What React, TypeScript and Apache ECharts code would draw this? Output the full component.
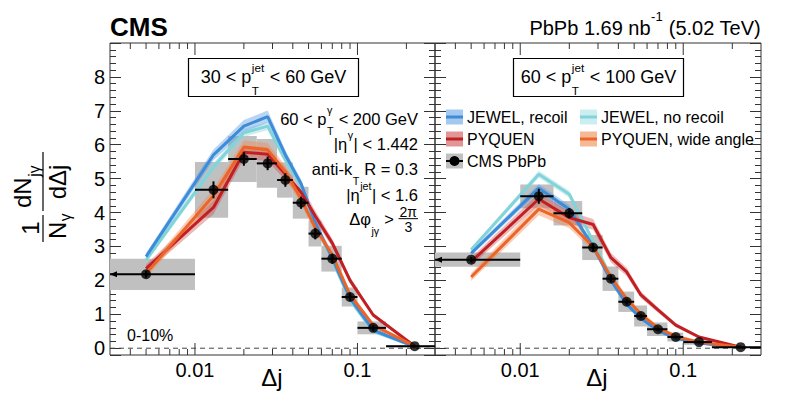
import React, { useEffect, useRef } from 'react';
import * as echarts from 'echarts';

// ---------------- data ----------------
const X_MIN = 0.003;
const X_MAX = 0.3;
const Y_MIN = -0.2;
const Y_MAX = 9;

const binLo = [0, 0.01, 0.016, 0.024, 0.032, 0.04, 0.05, 0.06, 0.08, 0.1, 0.15];
const binHi = [0.01, 0.016, 0.024, 0.032, 0.04, 0.05, 0.06, 0.08, 0.1, 0.15, 0.3];
const binX = [0.005, 0.013, 0.02, 0.028, 0.036, 0.045, 0.055, 0.07, 0.09, 0.125, 0.225];

// panel 1 : 30 < pT jet < 60 GeV
const cms1 = [2.18, 4.67, 5.58, 5.45, 4.96, 4.29, 3.38, 2.64, 1.51, 0.6, 0.06];
const stat1 = [0.1, 0.25, 0.2, 0.2, 0.2, 0.18, 0.17, 0.15, 0.12, 0.08, 0.04];
const sys1 = [0.46, 0.82, 0.68, 0.72, 0.52, 0.47, 0.38, 0.38, 0.28, 0.19, 0.03];
const jewelRecoil1 = [2.7, 5.7, 6.55, 6.83, 5.7, 4.85, 3.7, 2.65, 1.48, 0.53, 0.05];
const jewelRecoilErr1 = [0.1, 0.16, 0.18, 0.18, 0.14, 0.12, 0.1, 0.08, 0.06, 0.04, 0.02];
const jewelNoRecoil1 = [2.6, 5.35, 6.35, 6.55, 5.55, 4.75, 3.65, 2.6, 1.42, 0.5, 0.05];
const jewelNoRecoilErr1 = [0.08, 0.12, 0.12, 0.12, 0.1, 0.1, 0.08, 0.06, 0.05, 0.03, 0.02];
const pyquen1 = [2.35, 4.15, 5.78, 5.72, 5.13, 4.6, 3.9, 3.1, 2.0, 0.98, 0.06];
const pyquenErr1 = [0.12, 0.2, 0.2, 0.2, 0.18, 0.18, 0.15, 0.12, 0.1, 0.06, 0.02];
const pyquenWide1 = [2.2, 4.5, 5.93, 5.85, 5.2, 4.4, 3.55, 2.75, 1.57, 0.68, 0.06];
const pyquenWideErr1 = [0.12, 0.2, 0.2, 0.2, 0.18, 0.17, 0.15, 0.12, 0.1, 0.06, 0.02];

// panel 2 : 60 < pT jet < 100 GeV
const cms2 = [2.61, 4.48, 3.98, 2.97, 2.05, 1.37, 0.95, 0.56, 0.33, 0.18, 0.03];
const stat2 = [0.08, 0.22, 0.15, 0.12, 0.1, 0.08, 0.06, 0.05, 0.04, 0.03, 0.02];
const sys2 = [0.21, 0.35, 0.36, 0.37, 0.36, 0.3, 0.31, 0.2, 0.13, 0.08, 0.02];
const jewelRecoil2 = [2.8, 4.72, 4.1, 3.0, 2.0, 1.3, 0.88, 0.52, 0.3, 0.15, 0.02];
const jewelRecoilErr2 = [0.08, 0.12, 0.12, 0.1, 0.08, 0.06, 0.05, 0.04, 0.03, 0.02, 0.01];
const jewelNoRecoil2 = [2.9, 5.13, 4.54, 3.15, 2.1, 1.35, 0.92, 0.55, 0.31, 0.16, 0.02];
const jewelNoRecoilErr2 = [0.06, 0.1, 0.1, 0.08, 0.06, 0.05, 0.04, 0.03, 0.02, 0.02, 0.01];
const pyquen2 = [2.55, 4.4, 3.85, 3.65, 2.67, 2.25, 1.57, 1.13, 0.68, 0.33, 0.03];
const pyquenErr2 = [0.12, 0.18, 0.18, 0.16, 0.14, 0.12, 0.1, 0.08, 0.06, 0.04, 0.02];
const pyquenWide2 = [2.1, 4.1, 3.7, 3.0, 2.1, 1.45, 1.0, 0.6, 0.35, 0.18, 0.03];
const pyquenWideErr2 = [0.12, 0.18, 0.16, 0.14, 0.12, 0.1, 0.08, 0.06, 0.04, 0.03, 0.02];

const minorTicksX = [0.004, 0.005, 0.006, 0.007, 0.008, 0.009, 0.02, 0.03, 0.04, 0.05, 0.06, 0.07, 0.08, 0.09, 0.2];
const majorTicksX = [0.01, 0.1];

// ---------------- styles ----------------
const FF = '"Liberation Sans", Arial, Helvetica, sans-serif';
const GRAY = 'rgb(192,192,192)';
const AX = '#333';
const C = {
  blue: 'rgb(60,140,218)',
  blueBand: 'rgba(90,155,225,0.42)',
  blueSw: 'rgb(165,200,238)',
  cyan: 'rgb(128,212,218)',
  cyanBand: 'rgba(140,215,220,0.42)',
  cyanSw: 'rgb(205,238,240)',
  red: 'rgb(192,32,36)',
  redBand: 'rgba(205,70,70,0.38)',
  redSw: 'rgb(225,150,150)',
  orange: 'rgb(236,100,40)',
  orangeBand: 'rgba(242,135,80,0.42)',
  orangeSw: 'rgb(246,185,150)',
};

// ---------------- text helpers ----------------
let _ctx: CanvasRenderingContext2D | null = null;
function tw(t: string, s: number) {
  if (!_ctx) _ctx = document.createElement('canvas').getContext('2d');
  _ctx!.font = `${s}px ${FF}`;
  return _ctx!.measureText(t).width;
}
function txt(text: string, x: number, y: number, s: number, align = 'left', extra: any = {}) {
  return {
    type: 'text', x, y, silent: true, z: 100,
    style: { text, fontSize: s, fontFamily: FF, fill: '#000', align, verticalAlign: 'middle', ...extra },
  };
}
function ln(x1: number, y1: number, x2: number, y2: number, w = 1, color = '#000') {
  return { type: 'line', silent: true, z: 100, shape: { x1, y1, x2, y2 }, style: { stroke: color, lineWidth: w } };
}
function row(parts: any[], x: number, mid: number, S: number, align: 'left' | 'right' | 'center') {
  const ss = S * 0.65;
  const fs = S * 0.85;
  const meas = parts.map((p) => {
    if (p.t !== undefined) return tw(p.t, S);
    if (p.num !== undefined) return Math.max(tw(p.num, fs), tw(p.den, fs)) + 2;
    return Math.max(p.sup ? tw(p.sup, ss) : 0, p.sub ? tw(p.sub, ss) : 0) + 1;
  });
  const total = meas.reduce((a, b) => a + b, 0);
  let cx = align === 'right' ? x - total : align === 'center' ? x - total / 2 : x;
  const out: any[] = [];
  parts.forEach((p, i) => {
    const w = meas[i];
    if (p.t !== undefined) {
      const lead = p.t.length - p.t.replace(/^\s+/, '').length;
      const off = lead ? tw(p.t.slice(0, lead), S) : 0;
      out.push(txt(p.t.trim(), cx + off, mid, S));
    } else if (p.num !== undefined) {
      out.push(txt(p.num, cx + w / 2, mid - 0.45 * S, fs, 'center'));
      out.push(txt(p.den, cx + w / 2, mid + 0.5 * S, fs, 'center'));
      out.push(ln(cx, mid - 0.02 * S, cx + w, mid - 0.02 * S, 1));
    } else {
      if (p.sup) out.push(txt(p.sup, cx + 0.5, mid - 0.55 * S, ss));
      if (p.sub) out.push(txt(p.sub, cx + 0.5, mid + 0.75 * S, ss));
    }
    cx += w;
  });
  return out;
}

// ---------------- series builders ----------------
function bandSeries(g: number, ys: number[], errs: number[], color: string) {
  return {
    type: 'custom', xAxisIndex: g, yAxisIndex: g * 2, z: 3, silent: true, clip: true,
    data: [[binX[0], ys[0]]],
    renderItem: (_p: any, api: any) => {
      const top = binX.map((x, i) => api.coord([x, ys[i] + errs[i]]));
      const bot = binX.map((x, i) => api.coord([x, ys[i] - errs[i]])).reverse();
      return { type: 'polygon', shape: { points: top.concat(bot) }, style: { fill: color } };
    },
  };
}
function lineSeries(g: number, ys: number[], color: string) {
  return {
    type: 'line', xAxisIndex: g, yAxisIndex: g * 2, z: 4, silent: true,
    data: binX.map((x, i) => [x, ys[i]]),
    showSymbol: false, symbol: 'none',
    lineStyle: { color, width: 3 },
  };
}
function panelSeries(g: number, cms: number[], stat: number[], sys: number[], models: any[]) {
  const out: any[] = [];
  out.push({
    type: 'custom', xAxisIndex: g, yAxisIndex: g * 2, z: 1, silent: true, clip: true,
    data: binX.map((_x, i) => [binHi[i], cms[i], binLo[i], sys[i]]),
    encode: { x: 0, y: 1 },
    renderItem: (_p: any, api: any) => {
      const hi = api.value(0), y = api.value(1), lo = Math.max(api.value(2), X_MIN), e = api.value(3);
      const a = api.coord([lo, y + e]);
      const b = api.coord([hi, y - e]);
      return { type: 'rect', shape: { x: a[0], y: a[1], width: b[0] - a[0], height: b[1] - a[1] }, style: { fill: GRAY } };
    },
  });
  out.push({
    type: 'line', xAxisIndex: g, yAxisIndex: g * 2, z: 2, silent: true, symbol: 'none',
    data: [[X_MIN, 0], [X_MAX, 0]],
    lineStyle: { color: '#444', width: 1, type: [5, 4] },
  });
  models.forEach((m) => out.push(bandSeries(g, m.ys, m.errs, m.band)));
  models.forEach((m) => out.push(lineSeries(g, m.ys, m.line)));
  out.push({
    type: 'custom', xAxisIndex: g, yAxisIndex: g * 2, z: 6, silent: true, clip: false,
    data: binX.map((x, i) => [x, cms[i], stat[i], binLo[i], binHi[i]]),
    encode: { x: 0, y: 1 },
    renderItem: (_p: any, api: any) => {
      const x = api.value(0), y = api.value(1), e = api.value(2);
      const lo = Math.max(api.value(3), X_MIN), hi = api.value(4);
      const pl = api.coord([lo, y]), ph = api.coord([hi, y]);
      const pt = api.coord([x, y + e]), pb = api.coord([x, y - e]);
      const children: any[] = [
        { type: 'line', shape: { x1: pl[0], y1: pl[1], x2: ph[0], y2: ph[1] }, style: { stroke: '#000', lineWidth: 2 } },
        { type: 'line', shape: { x1: pt[0], y1: pt[1], x2: pb[0], y2: pb[1] }, style: { stroke: '#000', lineWidth: 2 } },
      ];
      if (api.value(3) < X_MIN) {
        children.push({ type: 'polygon', shape: { points: [[pl[0], pl[1]], [pl[0] + 7, pl[1] - 3], [pl[0] + 7, pl[1] + 3]] }, style: { fill: '#000' } });
      }
      return { type: 'group', children };
    },
  });
  out.push({
    type: 'scatter', xAxisIndex: g, yAxisIndex: g * 2, z: 7, silent: true,
    data: binX.map((x, i) => [x, cms[i]]),
    symbol: 'circle', symbolSize: 10, itemStyle: { color: '#000' },
  });
  out.push({
    type: 'custom', xAxisIndex: g, yAxisIndex: g * 2, z: 8, silent: true, clip: false,
    data: [...majorTicksX.map((v) => [v, 0, 1]), ...minorTicksX.map((v) => [v, 0, 0])],
    encode: { x: 0, y: 1 },
    renderItem: (_p: any, api: any) => {
      const v = api.value(0);
      const L = api.value(2) ? 12 : 6;
      const b = api.coord([v, Y_MIN]);
      const t = api.coord([v, Y_MAX]);
      return {
        type: 'group', children: [
          { type: 'line', shape: { x1: b[0], y1: b[1], x2: b[0], y2: b[1] - L }, style: { stroke: AX, lineWidth: 1 } },
          { type: 'line', shape: { x1: t[0], y1: t[1], x2: t[0], y2: t[1] + L }, style: { stroke: AX, lineWidth: 1 } },
        ],
      };
    },
  });
  return out;
}

function yAxisDef(g: number, position: 'left' | 'right', labels: boolean) {
  return {
    type: 'value', gridIndex: g, position, min: Y_MIN, max: Y_MAX, splitNumber: 9,
    axisLine: { show: false },
    splitLine: { show: false },
    axisTick: { show: true, inside: true, length: 11, lineStyle: { color: AX, width: 1 } },
    minorTick: { show: true, splitNumber: 5, length: 6, lineStyle: { color: AX, width: 1 } },
    minorSplitLine: { show: false },
    axisLabel: {
      show: labels, showMinLabel: false, showMaxLabel: false, margin: 5,
      fontSize: 20, fontFamily: FF, color: '#000',
    },
  };
}
function xAxisDef(g: number) {
  return {
    type: 'log', logBase: 10, gridIndex: g, min: X_MIN, max: X_MAX,
    axisLine: { show: false },
    axisTick: { show: false },
    minorTick: { show: false },
    splitLine: { show: false },
    axisLabel: {
      show: true, showMinLabel: false, showMaxLabel: false, margin: 5,
      fontSize: 20, fontFamily: FF, color: '#000',
    },
  };
}

function buildGraphics() {
  const els: any[] = [];
  // header
  els.push(txt('CMS', 110, 26.5, 26, 'left', { fontWeight: 'bold' }));
  els.push(...row([{ t: 'PbPb 1.69 nb' }, { sup: '-1' }, { t: ' (5.02 TeV)' }], 761, 27.5, 20, 'right'));
  // pT boxes
  els.push({ type: 'rect', z: 99, silent: true, shape: { x: 188.5, y: 58.5, width: 170, height: 38 }, style: { fill: '#fff', stroke: '#000', lineWidth: 1.2 } });
  els.push(...row([{ t: '30 < p' }, { sup: 'jet', sub: 'T' }, { t: ' < 60 GeV' }], 273.5, 77, 18, 'center'));
  els.push({ type: 'rect', z: 99, silent: true, shape: { x: 513.5, y: 58.5, width: 170, height: 38 }, style: { fill: '#fff', stroke: '#000', lineWidth: 1.2 } });
  els.push(...row([{ t: '60 < p' }, { sup: 'jet', sub: 'T' }, { t: ' < 100 GeV' }], 598.5, 77, 18, 'center'));
  // selection text
  const S = 16.5, XR = 418;
  els.push(...row([{ t: '60 < p' }, { sup: 'γ', sub: 'T' }, { t: ' < 200 GeV' }], XR, 119, S, 'right'));
  els.push(...row([{ t: '|η' }, { sup: 'γ' }, { t: '| < 1.442' }], XR, 144, S, 'right'));
  els.push(...row([{ t: 'anti-k' }, { sub: 'T' }, { t: ' R = 0.3' }], XR, 169, S, 'right'));
  els.push(...row([{ t: '|η' }, { sup: 'jet' }, { t: '| < 1.6' }], XR, 195, S, 'right'));
  els.push(...row([{ t: 'Δφ' }, { sub: 'jγ' }, { t: ' > ' }, { num: '2π', den: '3' }], XR, 219, S, 'right'));
  els.push(txt('0-10%', 127, 335, 16));
  // axis titles
  els.push(txt('Δj', 272, 377, 24, 'center'));
  els.push(txt('Δj', 597, 377, 24, 'center'));
  // y title (rotated)
  const T = 24;
  const wdN = tw('dN', T);
  els.push({
    type: 'group', x: 43, y: 248, rotation: Math.PI / 2, silent: true, z: 100,
    children: [
      txt('1', 20, -13, T, 'center'),
      ln(6, 0, 33, 0, 1.2),
      txt('N', 9, 14, T, 'left'),
      txt('γ', 9 + tw('N', T) + 0.5, 22, T * 0.65, 'left'),
      txt('dN', 40, -21, T, 'left'),
      txt('jγ', 40 + wdN + 0.5, -9, T * 0.65, 'left'),
      ln(37, 0, 96, 0, 1.2),
      txt('dΔj', 66, 14, T, 'center'),
    ],
  });
  // legend
  const legend = [
    { x: 446, y: 117, sw: C.blueSw, line: C.blue, label: 'JEWEL, recoil' },
    { x: 446, y: 139, sw: C.redSw, line: C.red, label: 'PYQUEN' },
    { x: 580, y: 117, sw: C.cyanSw, line: C.cyan, label: 'JEWEL, no recoil' },
    { x: 580, y: 139, sw: C.orangeSw, line: C.orange, label: 'PYQUEN, wide angle' },
  ];
  legend.forEach((l) => {
    els.push({ type: 'rect', z: 100, silent: true, shape: { x: l.x, y: l.y - 7.5, width: 17, height: 15 }, style: { fill: l.sw } });
    els.push(ln(l.x, l.y, l.x + 17, l.y, 3, l.line));
    els.push(txt(l.label, l.x + 21, l.y, 16));
  });
  els.push({ type: 'rect', z: 100, silent: true, shape: { x: 446, y: 153.5, width: 17, height: 15 }, style: { fill: GRAY } });
  els.push(ln(446, 161, 463, 161, 2, '#000'));
  els.push({ type: 'circle', z: 101, silent: true, shape: { cx: 454.5, cy: 161, r: 5 }, style: { fill: '#000' } });
  els.push(txt('CMS PbPb', 467, 161, 16));
  return els;
}

function buildOption() {
  const models1 = [
    { ys: jewelNoRecoil1, errs: jewelNoRecoilErr1, band: C.cyanBand, line: C.cyan },
    { ys: jewelRecoil1, errs: jewelRecoilErr1, band: C.blueBand, line: C.blue },
    { ys: pyquen1, errs: pyquenErr1, band: C.redBand, line: C.red },
    { ys: pyquenWide1, errs: pyquenWideErr1, band: C.orangeBand, line: C.orange },
  ];
  const models2 = [
    { ys: jewelNoRecoil2, errs: jewelNoRecoilErr2, band: C.cyanBand, line: C.cyan },
    { ys: jewelRecoil2, errs: jewelRecoilErr2, band: C.blueBand, line: C.blue },
    { ys: pyquen2, errs: pyquenErr2, band: C.redBand, line: C.red },
    { ys: pyquenWide2, errs: pyquenWideErr2, band: C.orangeBand, line: C.orange },
  ];
  return {
    animation: false,
    backgroundColor: '#fff',
    grid: [
      { left: 110, top: 43, width: 325, height: 312, show: true, borderColor: AX, borderWidth: 1, backgroundColor: 'transparent' },
      { left: 435, top: 43, width: 326, height: 312, show: true, borderColor: AX, borderWidth: 1, backgroundColor: 'transparent' },
    ],
    xAxis: [xAxisDef(0), xAxisDef(1)],
    yAxis: [yAxisDef(0, 'left', true), yAxisDef(0, 'right', false), yAxisDef(1, 'left', false), yAxisDef(1, 'right', false)],
    series: [
      ...panelSeries(0, cms1, stat1, sys1, models1),
      ...panelSeries(1, cms2, stat2, sys2, models2),
    ],
    graphic: { elements: buildGraphics() },
  };
}

export default function App() {
  const ref = useRef<HTMLDivElement>(null);
  useEffect(() => {
    const chart = echarts.init(ref.current!, null, { renderer: 'svg' });
    chart.setOption(buildOption() as any);
    return () => chart.dispose();
  }, []);
  return <div ref={ref} style={{ position: 'fixed', left: 0, top: 0, width: 793, height: 399, background: '#fff' }} />;
}
